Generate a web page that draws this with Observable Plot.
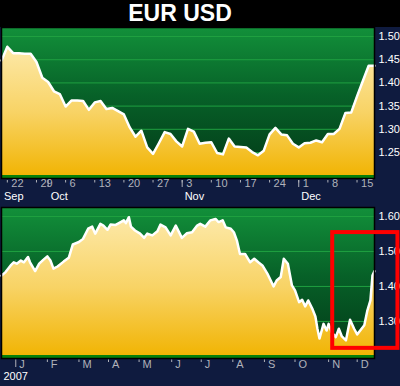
<!DOCTYPE html>
<html><head><meta charset="utf-8">
<script src="https://cdn.jsdelivr.net/npm/d3@7"></script>
<script src="https://cdn.jsdelivr.net/npm/@observablehq/plot@0.6"></script>
<style>
html,body{margin:0;padding:0;background:#000;}
#wrap{width:400px;height:386px;overflow:hidden;background:#0f1b3f;}
#title{height:27px;background:#000;color:#fff;font:bold 23px "Liberation Sans",Arial,sans-serif;line-height:27px;width:360px;padding-right:40px;text-align:center;}
#wrap svg{display:block;}
</style>
</head><body>
<div id="wrap"><div id="title"></div></div>
<script>
// ---------- data ----------
const titleText = "EUR USD";
// top panel: daily (weekday) closes, 2008-09-19 .. 2008-12-18
const topStart = "2008-09-19", topEnd = "2008-12-18";
const topValues = [1.448,1.478,1.464,1.464,1.463,1.463,1.445,1.411,1.402,1.382,
  1.376,1.349,1.362,1.362,1.361,1.342,1.358,1.361,1.344,1.346,
  1.339,1.332,1.304,1.284,1.297,1.261,1.247,1.270,1.294,1.290,
  1.274,1.263,1.301,1.295,1.269,1.271,1.272,1.249,1.246,1.280,
  1.263,1.262,1.261,1.251,1.244,1.254,1.289,1.303,1.289,1.287,
  1.269,1.261,1.270,1.271,1.276,1.272,1.290,1.290,1.301,1.335,
  1.336,1.371,1.404,1.437,1.437];
const topMonthNames = ["Sep","Oct","Nov","Dec"];
const topYTicks = [1.25,1.30,1.35,1.40,1.45,1.50];
const topYDomain = [1.194,1.5194];

// bottom panel: one year
const bottomDates = ["2007-12-18","2007-12-22","2007-12-27","2007-12-30","2008-01-02","2008-01-06","2008-01-09","2008-01-13","2008-01-15","2008-01-20",
  "2008-01-24","2008-01-28","2008-02-01","2008-02-04","2008-02-07","2008-02-11","2008-02-17","2008-02-22","2008-02-26","2008-03-03",
  "2008-03-07","2008-03-12","2008-03-16","2008-03-19","2008-03-24","2008-03-27","2008-03-31","2008-04-03","2008-04-08","2008-04-13",
  "2008-04-16","2008-04-18","2008-04-21","2008-04-23","2008-04-27","2008-05-02","2008-05-06","2008-05-09","2008-05-14","2008-05-19",
  "2008-05-22","2008-05-27","2008-06-01","2008-06-06","2008-06-12","2008-06-17","2008-06-22","2008-06-27","2008-06-30","2008-07-05",
  "2008-07-10","2008-07-15","2008-07-18","2008-07-22","2008-07-25","2008-07-30","2008-08-02","2008-08-05","2008-08-08","2008-08-13",
  "2008-08-18","2008-08-22","2008-08-26","2008-08-30","2008-09-04","2008-09-10","2008-09-13","2008-09-17","2008-09-20","2008-09-24",
  "2008-09-28","2008-10-01","2008-10-05","2008-10-08","2008-10-11","2008-10-14","2008-10-18","2008-10-21","2008-10-23","2008-10-25",
  "2008-10-29","2008-11-01","2008-11-03","2008-11-06","2008-11-10","2008-11-13","2008-11-16","2008-11-20","2008-11-24","2008-11-28",
  "2008-12-01","2008-12-04","2008-12-08","2008-12-11","2008-12-14","2008-12-16","2008-12-18"];
const bottomValues = [1.431,1.441,1.460,1.469,1.465,1.474,1.469,1.484,1.469,1.444,
  1.465,1.476,1.486,1.474,1.451,1.457,1.471,1.482,1.520,1.527,
  1.536,1.565,1.571,1.551,1.579,1.574,1.562,1.577,1.576,1.584,
  1.589,1.581,1.598,1.571,1.560,1.551,1.539,1.551,1.546,1.558,
  1.577,1.569,1.546,1.574,1.539,1.552,1.555,1.574,1.579,1.571,
  1.589,1.593,1.584,1.589,1.569,1.565,1.555,1.531,1.493,1.493,
  1.469,1.479,1.469,1.460,1.436,1.400,1.417,1.427,1.479,1.465,
  1.403,1.389,1.355,1.362,1.343,1.360,1.336,1.314,1.279,1.251,
  1.293,1.274,1.293,1.269,1.255,1.279,1.257,1.246,1.305,1.279,
  1.263,1.274,1.289,1.331,1.360,1.431,1.444];
const bottomDomain = ["2007-12-18","2008-12-18"];
const bottomMonthTicks = ["2008-01-01","2008-02-01","2008-03-03","2008-04-01","2008-05-01","2008-06-02","2008-07-01","2008-08-01","2008-09-01","2008-10-01","2008-11-03","2008-12-01"];
const bottomMonthLabels = ["J","F","M","A","M","J","J","A","S","O","N","D"];
const yearLabel = ["2007"];
const bottomYTicks = [1.30,1.40,1.50,1.60];
const bottomYDomain = [1.194,1.6257];
// highlighted zoom region (red box)
const highlight = [{from:"2008-11-07", to:"2009-01-10", low:1.223, high:1.554}];

// ---------- styling ----------
const navy = "#0f1b3f", gridColor = "#1fa040", bandColor = "#07800a";
const tickFont = '"Liberation Sans Narrow","Liberation Sans",Arial,sans-serif';
const tickGray = "#b0b2ba";
const P = d => new Date(d + "T00:00:00Z");

document.getElementById("title").textContent = titleText;

function addDefs(svg, id) {
  const ns = "http://www.w3.org/2000/svg";
  const defs = document.createElementNS(ns, "defs");
  const mk = (gid, stops) => {
    const g = document.createElementNS(ns, "linearGradient");
    g.setAttribute("id", gid); g.setAttribute("x1", 0); g.setAttribute("y1", 0); g.setAttribute("x2", 0); g.setAttribute("y2", 1);
    for (const [o, c] of stops) { const s = document.createElementNS(ns, "stop"); s.setAttribute("offset", o); s.setAttribute("stop-color", c); g.appendChild(s); }
    defs.appendChild(g);
  };
  mk("green" + id, [[0, "#12903a"], [0.45, "#076128"], [1, "#023817"]]);
  mk("yellow" + id, [[0, "#fde9a9"], [0.5, "#f8d365"], [1, "#f1b300"]]);
  svg.insertBefore(defs, svg.firstChild);
}

// ---------- top panel ----------
const topDates = d3.utcDay.range(P(topStart), d3.utcDay.offset(P(topEnd), 1))
  .filter(d => d.getUTCDay() !== 0 && d.getUTCDay() !== 6);
const topData = topValues.map((v, i) => ({i, date: topDates[i], v}));
const topMondays = topData.filter(d => d.date.getUTCDay() === 1).map(d => d.i);
const topMonthStarts = topData.filter((d, k) => k === 0 || d.date.getUTCMonth() !== topData[k - 1].date.getUTCMonth()).map(d => d.i);
const topLong = topMonthStarts.slice(1);
const tMin = topYDomain[0];

const topPlot = Plot.plot({
  width: 400, height: 178, marginTop: 0, marginBottom: 27, marginLeft: 1, marginRight: 26,
  style: {background: navy, overflow: "visible"},
  x: {domain: [0, topValues.length - 1], axis: null},
  y: {domain: topYDomain, axis: null},
  marks: [
    Plot.frame({fill: "url(#greenT)"}),
    Plot.ruleY(topYTicks, {stroke: gridColor, strokeWidth: 1}),
    Plot.areaY(topData, {x: "i", y1: () => tMin, y2: "v", fill: "url(#yellowT)"}),
    Plot.lineY(topData, {x: "i", y: "v", stroke: "#fff", strokeWidth: 2.5, strokeLinejoin: "round"}),
    Plot.ruleY([tMin], {stroke: bandColor, strokeWidth: 3.5, dy: -1.75}),
    Plot.frame({stroke: "#000", strokeWidth: 1.5}),
    Plot.ruleX(topMondays, {x: d => d, y1: () => tMin, y2: () => tMin, insetTop: 2, insetBottom: -4.5, stroke: tickGray}),
    Plot.ruleX(topLong, {x: d => d, y1: () => tMin, y2: () => tMin, insetTop: 2, insetBottom: -9, stroke: tickGray}),
    Plot.text(topMondays, {x: d => d, text: d => String(topDates[d].getUTCDate()), frameAnchor: "bottom", dy: 8.5, dx: 4, textAnchor: "start", fill: tickGray, fontSize: 11, fontFamily: tickFont}),
    Plot.text(topMonthStarts, {x: d => d, text: (d, k) => topMonthNames[k], frameAnchor: "bottom", dy: 21, dx: 2.5, textAnchor: "start", fill: "#fff", fontSize: 11, fontFamily: tickFont}),
    Plot.text(topYTicks, {y: d => d, text: d => d.toFixed(2), frameAnchor: "right", dx: 4, textAnchor: "start", fill: "#fff", fontSize: 11, fontFamily: tickFont})
  ]
});
addDefs(topPlot, "T");

// ---------- bottom panel ----------
const bottomData = bottomValues.map((v, k) => ({date: P(bottomDates[k]), v}));
const bMin = bottomYDomain[0];
const bTicks = bottomMonthTicks.map(P);
const bottomPlot = Plot.plot({
  width: 400, height: 181, marginTop: 2, marginBottom: 28, marginLeft: 1, marginRight: 26,
  style: {background: navy, overflow: "visible"},
  x: {type: "utc", domain: bottomDomain.map(P), axis: null},
  y: {domain: bottomYDomain, axis: null},
  marks: [
    Plot.frame({fill: "url(#greenB)"}),
    Plot.ruleY(bottomYTicks, {stroke: gridColor, strokeWidth: 1}),
    Plot.areaY(bottomData, {x: "date", y1: () => bMin, y2: "v", fill: "url(#yellowB)"}),
    Plot.lineY(bottomData, {x: "date", y: "v", stroke: "#fff", strokeWidth: 2.5, strokeLinejoin: "round"}),
    Plot.ruleY([bMin], {stroke: bandColor, strokeWidth: 3.5, dy: -1.75}),
    Plot.frame({stroke: "#000", strokeWidth: 1.5}),
    Plot.ruleX(bTicks.slice(1), {x: d => d, y1: () => bMin, y2: () => bMin, insetTop: 1.5, insetBottom: -4, stroke: tickGray}),
    Plot.ruleX(bTicks.slice(0, 1), {x: d => d, y1: () => bMin, y2: () => bMin, insetTop: 1.5, insetBottom: -9, stroke: tickGray}),
    Plot.text(bTicks, {x: d => d, text: (d, k) => bottomMonthLabels[k], frameAnchor: "bottom", dy: 9, dx: 3.5, textAnchor: "start", fill: tickGray, fontSize: 11, fontFamily: tickFont}),
    Plot.text(yearLabel, {text: d => d, frameAnchor: "bottom-left", dy: 21, dx: 2, textAnchor: "start", fill: "#fff", fontSize: 11, fontFamily: tickFont}),
    Plot.text(bottomYTicks, {y: d => d, text: d => d.toFixed(2), frameAnchor: "right", dx: 4, textAnchor: "start", fill: "#fff", fontSize: 11, fontFamily: tickFont}),
    Plot.rect(highlight, {x1: d => P(d.from), x2: d => P(d.to), y1: "low", y2: "high", fill: "none", stroke: "#ff0000", strokeWidth: 4})
  ]
});
addDefs(bottomPlot, "B");

const wrap = document.getElementById("wrap");
wrap.appendChild(topPlot);
wrap.appendChild(bottomPlot);
</script>
</body></html>
